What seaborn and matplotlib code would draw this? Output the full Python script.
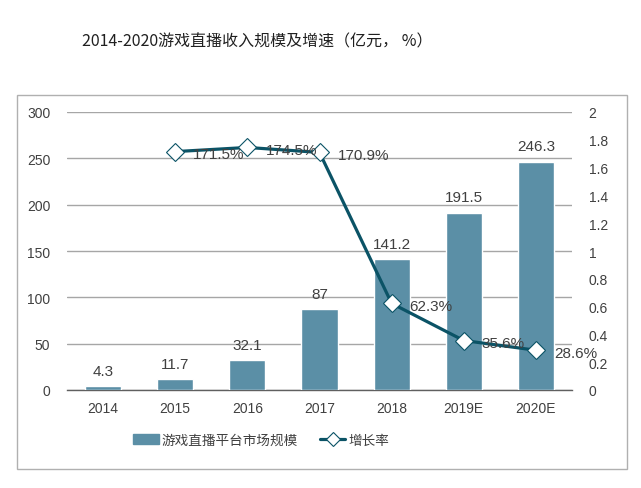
import matplotlib
matplotlib.use("Agg")
import matplotlib.pyplot as plt
import seaborn as sns
import pandas as pd
from matplotlib.lines import Line2D
from matplotlib.patches import Patch, Rectangle

years = ["2014", "2015", "2016", "2017", "2018", "2019E", "2020E"]
market = [4.3, 11.7, 32.1, 87, 141.2, 191.5, 246.3]
rate_years = ["2015", "2016", "2017", "2018", "2019E", "2020E"]
rate = [1.715, 1.745, 1.709, 0.623, 0.356, 0.286]
rate_labels = ["171.5%", "174.5%", "170.9%", "62.3%", "35.6%", "28.6%"]
left_ticks = [0, 50, 100, 150, 200, 250, 300]
right_ticks = [0, 0.2, 0.4, 0.6, 0.8, 1, 1.2, 1.4, 1.6, 1.8, 2]
right_tick_labels = ["0", "0.2", "0.4", "0.6", "0.8", "1", "1.2", "1.4", "1.6", "1.8", "2"]
bar_name = "游戏直播平台市场规模"
line_name = "增长率"
title = "2014-2020游戏直播收入规模及增速（亿元， %）"

sns.set_theme(style="white")
plt.rcParams['font.family'] = ['Liberation Sans', 'Noto Sans CJK SC', 'DejaVu Sans']

BAR_C = "#5b8fa6"
LINE_C = "#0b5366"
TXT_C = "#404040"
GRID_C = "#a6a6a6"

fig = plt.figure(figsize=(6.41, 4.89), dpi=100)
W, H = 641, 489
ax = fig.add_axes([67 / W, 1 - 391 / H, (572 - 67) / W, (391 - 113) / H])

df = pd.DataFrame({"year": years, "value": market})
sns.barplot(data=df, x="year", y="value", order=years, color=BAR_C,
            width=0.5, ax=ax, saturation=1, zorder=3)
ax.set_ylim(0, 300)
ax.set_yticks(left_ticks)
ax.set_yticklabels([str(t) for t in left_ticks])
ax.set_xlim(-0.5, len(years) - 0.5)
ax.set_xlabel("")
ax.set_ylabel("")
ax.yaxis.grid(True, color=GRID_C, linewidth=1, zorder=0)
ax.set_axisbelow(True)
for s in ["left", "right", "top"]:
    ax.spines[s].set_visible(False)
ax.spines["bottom"].set_color("#606060")
ax.spines["bottom"].set_linewidth(1)
ax.tick_params(axis="x", length=0, labelsize=10, colors=TXT_C, pad=8)
ax.tick_params(axis="y", length=0, labelsize=10, colors=TXT_C, pad=12)
for i, v in enumerate(market):
    ax.annotate(f"{v:g}", (i, v), xytext=(0, 6), textcoords="offset points",
                ha="center", va="bottom", fontsize=11, color=TXT_C, zorder=5)

ax2 = ax.twinx()
xpos = [years.index(y) for y in rate_years]
ldf = pd.DataFrame({"x": xpos, "rate": rate})
sns.lineplot(data=ldf, x="x", y="rate", ax=ax2, color=LINE_C, linewidth=2.3,
             marker="D", markersize=9.5, markerfacecolor="white",
             markeredgecolor=LINE_C, markeredgewidth=0.8, zorder=6)
ax2.set_ylim(0, 2)
ax2.set_yticks(right_ticks)
ax2.set_yticklabels(right_tick_labels)
ax2.set_xlim(-0.5, len(years) - 0.5)
ax2.set_xlabel("")
ax2.set_ylabel("")
for s in ["left", "right", "top", "bottom"]:
    ax2.spines[s].set_visible(False)
ax2.tick_params(axis="y", length=0, labelsize=10, colors=TXT_C, pad=12)
for x, r, lab in zip(xpos, rate, rate_labels):
    ax2.annotate(lab, (x, r), xytext=(13, -2), textcoords="offset points",
                 ha="left", va="center", fontsize=11, color=TXT_C, zorder=7)

# outer frame
fig.add_artist(Rectangle((17 / W, 1 - 470 / H), (627 - 17) / W, (470 - 96) / H,
                         transform=fig.transFigure, fill=False,
                         edgecolor="#b0b0b0", linewidth=1))

fig.text(257 / W, 1 - 42 / H, title, ha="center", va="center", fontsize=11.5,
         color="#202020", family=['Noto Sans CJK SC', 'DejaVu Sans'])

handles = [Patch(facecolor=BAR_C, edgecolor=BAR_C),
           Line2D([0], [0], color=LINE_C, linewidth=2.3, marker="D",
                  markersize=7, markerfacecolor="white", markeredgecolor=LINE_C,
                  markeredgewidth=0.8)]
fig.legend(handles, [bar_name, line_name], loc="center",
           bbox_to_anchor=(261 / W, 1 - 441 / H), ncol=2, frameon=False,
           prop={"family": ['Noto Sans CJK SC', 'DejaVu Sans'], "size": 9.8},
           handlelength=1.9, handletextpad=0.2, columnspacing=1.6,
           labelcolor=TXT_C)

fig.savefig("out.png", dpi=100)
